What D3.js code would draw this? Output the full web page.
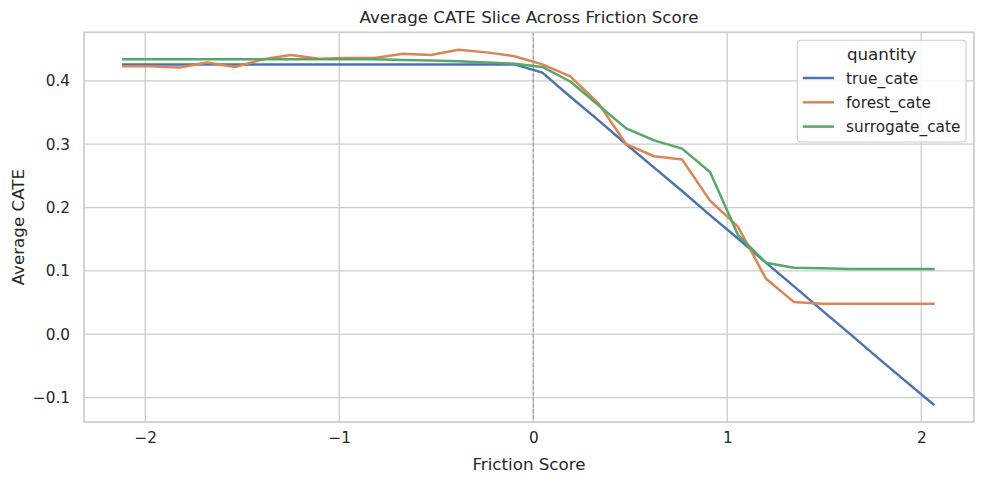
<!DOCTYPE html>
<html>
<head>
<meta charset="utf-8">
<style>
  body { margin: 0; background: #fff; }
  text { font-family: "DejaVu Sans", sans-serif; fill: #262626; }
</style>
</head>
<body>
<div id="chart-area"></div>

<script src="https://cdn.jsdelivr.net/npm/d3@7"></script>
<script>
    // friction score grid
    const friction = [-2.113, -1.969, -1.825, -1.681, -1.537, -1.393, -1.249, -1.105, -0.961, -0.817,
                      -0.673, -0.529, -0.385, -0.241, -0.097, 0.047, 0.191, 0.335, 0.479, 0.623,
                      0.767, 0.911, 1.055, 1.199, 1.343, 1.487, 1.631, 1.775, 1.919, 2.063];
    const trueCate = [0.426, 0.426, 0.426, 0.426, 0.426, 0.426, 0.426, 0.426, 0.426, 0.426,
                      0.426, 0.426, 0.426, 0.426, 0.426, 0.413, 0.375, 0.338, 0.300, 0.263,
                      0.226, 0.188, 0.151, 0.113, 0.076, 0.038, 0.001, -0.037, -0.074, -0.111];
    const forestCate = [0.423, 0.423, 0.421, 0.429, 0.422, 0.434, 0.441, 0.435, 0.436, 0.436,
                        0.443, 0.441, 0.449, 0.445, 0.439, 0.426, 0.407, 0.365, 0.300, 0.281,
                        0.276, 0.211, 0.170, 0.088, 0.051, 0.048, 0.048, 0.048, 0.048, 0.048];
    const surrogateCate = [0.434, 0.434, 0.434, 0.434, 0.434, 0.434, 0.434, 0.434, 0.434, 0.434,
                           0.433, 0.432, 0.431, 0.429, 0.427, 0.422, 0.399, 0.362, 0.325, 0.306,
                           0.293, 0.256, 0.157, 0.113, 0.105, 0.104, 0.103, 0.103, 0.103, 0.103];
    const seriesNames = ["true_cate", "forest_cate", "surrogate_cate"];
    const seriesColors = ["#4c72b0", "#dd8452", "#55a868"];
    const xTicks = [-2, -1, 0, 1, 2];
    const yTicks = [-0.1, 0.0, 0.1, 0.2, 0.3, 0.4];

    const width = 984, height = 484;
    const margin = {top: 32.3, right: 10, bottom: 62, left: 84};
    const iw = width - margin.left - margin.right;
    const ih = height - margin.top - margin.bottom;
    const gridColor = "#cccccc";

    const svg = d3.select("#chart-area").append("svg")
        .attr("width", width)
        .attr("height", height);

    const g = svg.append("g")
        .attr("transform", `translate(${margin.left},${margin.top})`);

    const x = d3.scaleLinear().domain([-2.316, 2.272]).range([0, iw]);
    const y = d3.scaleLinear().domain([-0.1386, 0.4767]).range([ih, 0]);

    const minus = s => s.replace("-", "\u2212");

    // grid
    g.append("g").selectAll("line").data(xTicks).join("line")
        .attr("x1", d => x(d)).attr("x2", d => x(d))
        .attr("y1", 0).attr("y2", ih)
        .attr("stroke", gridColor).attr("stroke-width", 1.3);
    g.append("g").selectAll("line").data(yTicks).join("line")
        .attr("y1", d => y(d)).attr("y2", d => y(d))
        .attr("x1", 0).attr("x2", iw)
        .attr("stroke", gridColor).attr("stroke-width", 1.3);

    // axes (labels only, whitegrid style has no tick marks)
    const xAxis = g.append("g")
        .attr("transform", `translate(0,${ih})`)
        .call(d3.axisBottom(x).tickValues(xTicks).tickSize(0).tickPadding(10)
            .tickFormat(d => minus(d3.format("d")(d))));
    const yAxis = g.append("g")
        .call(d3.axisLeft(y).tickValues(yTicks).tickSize(0).tickPadding(14)
            .tickFormat(d => minus(d3.format(".1f")(d))));
    [xAxis, yAxis].forEach(a => {
        a.select(".domain").remove();
        a.selectAll("text").style("font-size", "15.3px").attr("fill", "#262626")
            .style("font-family", "'DejaVu Sans', sans-serif");
    });
    xAxis.selectAll("text").attr("dy", "0.71em");

    // zero reference line
    g.append("line")
        .attr("x1", x(0)).attr("x2", x(0))
        .attr("y1", 0).attr("y2", ih)
        .attr("stroke", "#808080").attr("stroke-opacity", 0.7)
        .attr("stroke-width", 1.1)
        .attr("stroke-dasharray", "4,1.8");

    // series
    const allSeries = [trueCate, forestCate, surrogateCate];
    const line = d3.line()
        .x((d, i) => x(friction[i]))
        .y(d => y(d));
    g.append("g").selectAll("path").data(allSeries).join("path")
        .attr("d", line)
        .attr("fill", "none")
        .attr("stroke", (d, i) => seriesColors[i])
        .attr("stroke-width", 2.5)
        .attr("stroke-linejoin", "round")
        .attr("stroke-linecap", "square");

    // frame
    g.append("rect")
        .attr("width", iw).attr("height", ih)
        .attr("fill", "none")
        .attr("stroke", gridColor).attr("stroke-width", 1.7);

    // title + axis labels
    svg.append("text")
        .attr("x", margin.left + iw / 2).attr("y", 23.3)
        .attr("text-anchor", "middle")
        .style("font-size", "16.7px")
        .text("Average CATE Slice Across Friction Score");
    svg.append("text")
        .attr("x", margin.left + iw / 2).attr("y", 470)
        .attr("text-anchor", "middle")
        .style("font-size", "16.7px")
        .text("Friction Score");
    svg.append("text")
        .attr("transform", `translate(24,${margin.top + ih / 2}) rotate(-90)`)
        .attr("text-anchor", "middle")
        .style("font-size", "16.7px")
        .text("Average CATE");

    // legend
    const lg = svg.append("g").attr("transform", "translate(797.3,40.3)");
    lg.append("rect")
        .attr("width", 168.7).attr("height", 101.7)
        .attr("rx", 3.5)
        .attr("fill", "#ffffff").attr("fill-opacity", 0.8)
        .attr("stroke", gridColor).attr("stroke-width", 1.1);
    lg.append("text")
        .attr("x", 84.4).attr("y", 20)
        .attr("text-anchor", "middle")
        .style("font-size", "16.7px")
        .text("quantity");
    const item = lg.selectAll("g.item").data(seriesNames).join("g")
        .attr("class", "item")
        .attr("transform", (d, i) => `translate(0,${37.7 + i * 24.3})`);
    item.append("line")
        .attr("x1", 5.5).attr("x2", 36.7)
        .attr("stroke", (d, i) => seriesColors[i])
        .attr("stroke-width", 2.5);
    item.append("text")
        .attr("x", 48.7).attr("y", 5.6)
        .style("font-size", "15.3px")
        .text(d => d);
</script>
</body>
</html>
